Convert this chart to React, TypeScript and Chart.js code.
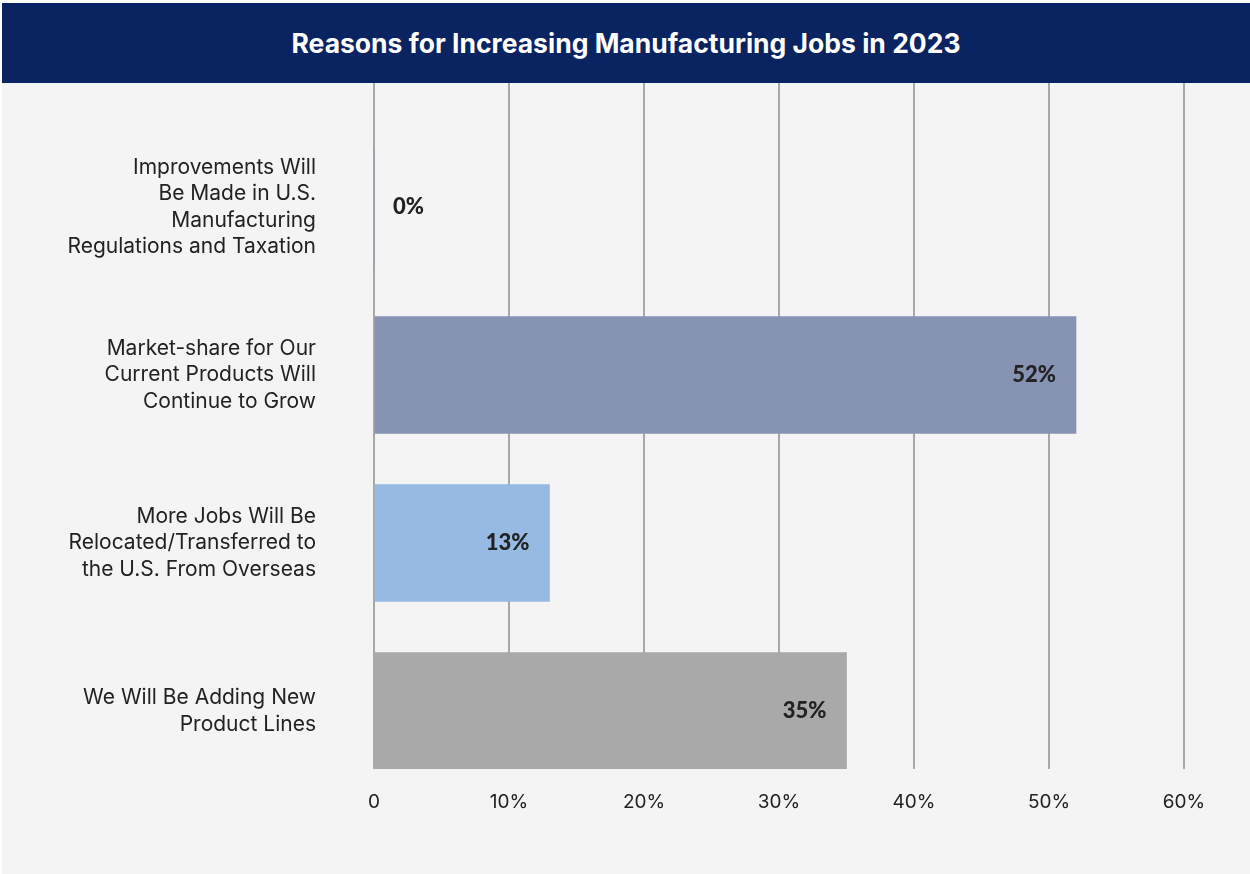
import React, { useEffect, useRef } from "react";
import { Chart, registerables } from "chart.js";

Chart.register(...registerables);

const titleText = "Reasons for Increasing Manufacturing Jobs in 2023";
const categoryLabels: string[][] = [
  ["Improvements Will", "Be Made in U.S.", "Manufacturing", "Regulations and Taxation"],
  ["Market-share for Our", "Current Products Will", "Continue to Grow"],
  ["More Jobs Will Be", "Relocated/Transferred to", "the U.S. From Overseas"],
  ["We Will Be Adding New", "Product Lines"],
];
const categoryIndex = [0, 1, 2, 3];
const values = [0, 52, 13, 35];
const barColors = ["#8793b3", "#8793b3", "#97bae3", "#a9a9a9"];
const xTicks = [0, 10, 20, 30, 40, 50, 60];
const yMin = -0.738;
const yMax = 3.345;

const valueLabelPlugin = {
  id: "valueLabels",
  afterDatasetsDraw(chart: any) {
    const ctx = chart.ctx;
    const meta = chart.getDatasetMeta(0);
    ctx.save();
    ctx.font = "900 22px Lato";
    ctx.fillStyle = "#222222";
    ctx.textBaseline = "middle";
    meta.data.forEach((bar: any, i: number) => {
      const text = values[i] + "%";
      const w = ctx.measureText(text).width;
      const barLen = bar.x - bar.base;
      if (barLen > w + 40) {
        ctx.textAlign = "right";
        ctx.fillText(text, bar.x - 20, bar.y);
      } else {
        ctx.textAlign = "left";
        ctx.fillText(text, bar.x + 19, bar.y);
      }
    });
    ctx.restore();
  },
};

export default function App() {
  const canvasRef = useRef<HTMLCanvasElement>(null);

  useEffect(() => {
    if (!canvasRef.current) return;
    const chart = new Chart(canvasRef.current, {
      type: "bar",
      data: {
        datasets: [
          {
            data: values.map((v, i) => ({ x: v, y: categoryIndex[i] })),
            backgroundColor: barColors,
            borderWidth: 0,
            barThickness: 117,
          },
        ],
      },
      options: {
        indexAxis: "y",
        animation: false,
        responsive: false,
        maintainAspectRatio: false,
        layout: { padding: { left: 0, right: 66, top: 0, bottom: 0 } },
        plugins: {
          legend: { display: false },
          tooltip: { enabled: false },
          title: { display: false },
        },
        scales: {
          x: {
            type: "linear",
            position: "bottom",
            min: 0,
            max: 60,
            afterBuildTicks: (scale: any) => {
              scale.ticks = xTicks.map((v) => ({ value: v }));
            },
            ticks: {
              padding: 22,
              color: "#222222",
              font: { family: "Inter", size: 19 },
              callback: (v: any) => (v === 0 ? "0" : v + "%"),
            },
            grid: { color: "#a8a8a8", lineWidth: 2, drawTicks: false },
            border: { display: false },
            afterFit: (scale: any) => {
              scale.height = 105;
              scale.paddingLeft = 0;
              scale.paddingRight = 0;
            },
          },
          y: {
            type: "linear",
            reverse: true,
            offset: false,
            bounds: "data",
            grace: 0,
            min: yMin,
            max: yMax,
            afterDataLimits: (scale: any) => {
              scale.min = yMin;
              scale.max = yMax;
            },
            afterBuildTicks: (scale: any) => {
              scale.min = yMin;
              scale.max = yMax;
              scale.ticks = categoryIndex.map((v) => ({ value: v }));
            },
            ticks: {
              padding: 50,
              color: "#222222",
              font: { family: "Inter", size: 21, lineHeight: 1.26 },
              callback: (v: any) => categoryLabels[v] ?? "",
            },
            grid: { display: false, offset: false },
            border: { display: false },
            afterFit: (scale: any) => {
              scale.width = 372;
              scale.paddingTop = 0;
              scale.paddingBottom = 0;
            },
          },
        },
      },
      plugins: [valueLabelPlugin],
    } as any);
    return () => chart.destroy();
  }, []);

  return (
    <div
      style={{
        position: "absolute",
        left: 2,
        top: 3,
        width: 1248,
        height: 871,
        background: "#f4f4f4",
      }}
    >
      <div
        style={{
          height: 80,
          background: "#0a2361",
          color: "#ffffff",
          fontFamily: "Inter",
          fontWeight: 700,
          fontSize: 26.5,
          display: "flex",
          alignItems: "center",
          justifyContent: "center",
        }}
      >
        {titleText}
      </div>
      <canvas ref={canvasRef} width={1248} height={791} style={{ display: "block" }} />
    </div>
  );
}
